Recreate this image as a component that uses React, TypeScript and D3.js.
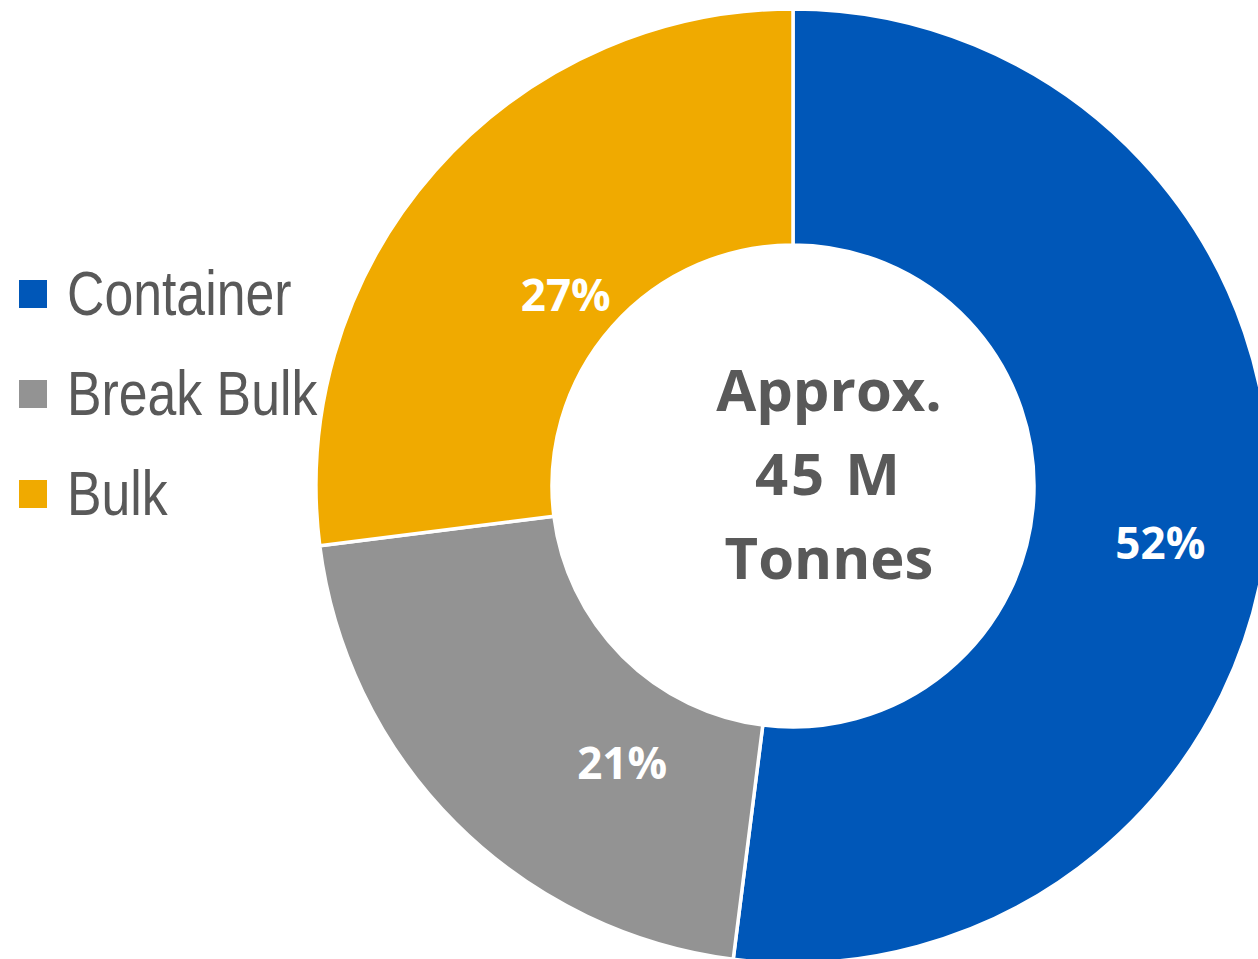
import React from "react";
import * as d3 from "d3";

const categories = ["Container", "Break Bulk", "Bulk"];
const values = [52, 21, 27];
const colors = ["#0057B8", "#939393", "#F0AA00"];
const labelOffsets: [number, number][] = [
  [9, 50],
  [83, 39],
  [42, 62],
];
const centerLines = ["Approx.", "45 M", "Tonnes"];

const W = 1258;
const H = 959;
const cx = 793;
const cy = 486;
const rOuter = 477;
const rInner = 241;
const narrow = 0.835;

export default function App() {
  const pie = d3.pie<number>().sort(null).value((d) => d);
  const arcs = pie(values);
  const arc = d3.arc<d3.PieArcDatum<number>>().innerRadius(rInner).outerRadius(rOuter);
  const legendY = d3.scaleBand<string>().domain(categories).range([244, 544]);

  return (
    <svg
      width={W}
      height={H}
      style={{ position: "absolute", left: 0, top: 0, background: "#fff" }}
    >
      <g transform={`translate(${cx},${cy})`}>
        {arcs.map((a, i) => (
          <path key={i} d={arc(a) || ""} fill={colors[i]} stroke="#fff" strokeWidth={3.5} />
        ))}
        {arcs.map((a, i) => {
          const [x, y] = arc.centroid(a);
          return (
            <text
              key={"l" + i}
              x={x + labelOffsets[i][0]}
              y={y + labelOffsets[i][1]}
              textAnchor="middle"
              fill="#fff"
              fontFamily="'Open Sans', sans-serif"
              fontWeight={700}
              fontSize={44}
            >
              {values[i]}%
            </text>
          );
        })}
      </g>
      {centerLines.map((t, i) => (
        <text
          key={"c" + i}
          x={829}
          y={411 + i * 84}
          textAnchor="middle"
          fill="#595959"
          fontFamily="'Open Sans', sans-serif"
          fontWeight={700}
          fontSize={58}
          letterSpacing={i === 1 ? 3 : 0}
        >
          {t}
        </text>
      ))}
      {categories.map((c, i) => {
        const y = (legendY(c) || 0) + legendY.bandwidth() / 2;
        return (
          <g key={"lg" + i}>
            <rect x={19} y={y - 14} width={28} height={28} fill={colors[i]} />
            <g transform={`translate(67,${y + 21}) scale(${narrow},1)`}>
              <text
                x={0}
                y={0}
                fill="#595959"
                fontFamily="'Liberation Sans', Arial, sans-serif"
                fontSize={62}
              >
                {c}
              </text>
            </g>
          </g>
        );
      })}
    </svg>
  );
}
